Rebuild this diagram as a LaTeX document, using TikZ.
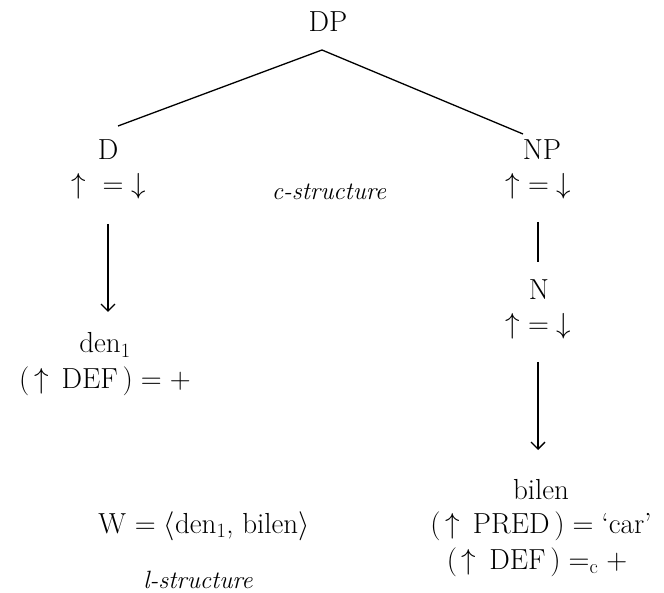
\RequirePackage{fix-cm}
\documentclass[tikz,border=0pt]{standalone}
\usepackage{fontspec}
\usetikzlibrary{arrows.meta}
\begin{document}
\begin{tikzpicture}[x=1pt,y=-1pt,
  lbl/.style={inner sep=0pt,anchor=center,font=\fontsize{29}{34}\selectfont},
  ital/.style={inner sep=0pt,anchor=center,font=\fontsize{25}{30}\selectfont\itshape},
  edge/.style={line width=1.3pt},
  arr/.style={line width=1.3pt,-{Straight Barb[length=7pt,width=14pt,line width=1.3pt]}}]
\useasboundingbox (0,0) rectangle (664,593);
\node[lbl] (dp) at (328,22) {DP};
\coordinate (apex) at (322,50);
\coordinate (lend) at (118,126);
\coordinate (rend) at (523,134);
\draw[edge] (lend) -- (apex) -- (rend);
\node[lbl] (d) at (108,150) {D};
\node[lbl] (deq) at (108.5,186) {$\uparrow\hspace{9pt}{=}\downarrow$};
\coordinate (da) at (108,224);
\coordinate (db) at (108,312);
\draw[arr] (da) -- (db);
\node[lbl] (den) at (105,345) {den$_1$};
\node[lbl] (denf) at (105,381) {$(\,\uparrow\,\mathrm{DEF}\,)=+$};
\node[ital] (cs) at (329,192) {c-structure};
\node[lbl] (np) at (542,150) {NP};
\node[lbl] (npeq) at (538.5,186) {$\uparrow{=}\downarrow$};
\coordinate (na) at (538,222);
\coordinate (nb) at (538,262);
\draw[edge] (na) -- (nb);
\node[lbl] (n) at (539,290) {N};
\node[lbl] (neq) at (538.5,326) {$\uparrow{=}\downarrow$};
\coordinate (ba) at (538,362);
\coordinate (bb) at (538,450);
\draw[arr] (ba) -- (bb);
\node[lbl] (bilen) at (541,490) {bilen};
\node[lbl] (pred) at (541,526) {$(\,\uparrow\,\mathrm{PRED}\,)=\mbox{`car'}$};
\node[lbl] (def) at (537,562) {$(\,\uparrow\,\mathrm{DEF}\,)=_{\mathrm{c}}+$};
\node[lbl] (w) at (204,526) {W $=\langle$den$_1$, bilen$\rangle$};
\node[ital] (ls) at (198,580) {l-structure};
\end{tikzpicture}
\end{document}
